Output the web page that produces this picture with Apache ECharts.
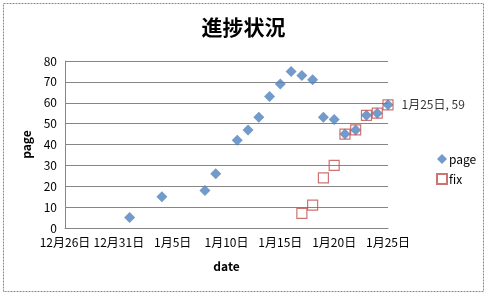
<!DOCTYPE html>
<html><head><meta charset="utf-8">
<script src="https://cdn.jsdelivr.net/npm/echarts@6/dist/echarts.min.js"></script>
<style>html,body{margin:0;padding:0;background:#fff}#c{width:487px;height:300px}</style>
</head><body><div id="c"></div>
<script>
const baseDate = '2010-12-26';
const endDate = '2011-01-25';
const pageDates = ['2011-01-01','2011-01-04','2011-01-08','2011-01-09','2011-01-11','2011-01-12','2011-01-13','2011-01-14','2011-01-15','2011-01-16','2011-01-17','2011-01-18','2011-01-19','2011-01-20','2011-01-21','2011-01-22','2011-01-23','2011-01-24','2011-01-25'];
const pageValues = [5,15,18,26,42,47,53,63,69,75,73,71,53,52,45,47,54,55,59];
const fixDates = ['2011-01-17','2011-01-18','2011-01-19','2011-01-20','2011-01-21','2011-01-22','2011-01-23','2011-01-24','2011-01-25'];
const fixValues = [7,11,24,30,45,47,54,55,59];
const yTicks = [0,10,20,30,40,50,60,70,80];

const DAY = 86400000;
const base = Date.parse(baseDate);
const dayIdx = d => Math.round((Date.parse(d) - base) / DAY);
const fmtDay = v => { const d = new Date(base + v * DAY); return (d.getUTCMonth()+1) + '月' + d.getUTCDate() + '日'; };
const FONT = '"Noto Sans CJK JP", sans-serif';

const chart = echarts.init(document.getElementById('c'), null, {renderer:'canvas'});
chart.setOption({
  backgroundColor: '#fff',
  animation: false,
  textStyle: {fontFamily: FONT},
  title: {text: '進捗状況', left: 'center', top: 12,
    textStyle: {fontSize: 21, fontWeight: 'bold', color: '#000', fontFamily: FONT}},
  graphic: [{type: 'rect', shape: {x: 3.5, y: 3.5, width: 480, height: 288},
    style: {fill: 'none', stroke: '#8a8a8a', lineWidth: 1, lineDash: [2, 1]}}],
  grid: {left: 65, right: 99, top: 61, bottom: 72},
  legend: {orient: 'vertical', left: 431, top: 148, itemGap: 8, itemWidth: 10, itemHeight: 10,
    textStyle: {fontSize: 12, color: '#000', fontFamily: FONT, padding: [0, 0, 0, -3]},
    data: [{name: 'page', icon: 'diamond'}, {name: 'fix', icon: 'rect'}]},
  xAxis: {type: 'value', min: 0, max: dayIdx(endDate), interval: 5,
    name: 'date', nameLocation: 'middle', nameGap: 32,
    nameTextStyle: {fontSize: 12, fontWeight: 'bold', color: '#000'},
    axisLine: {show: true, lineStyle: {color: '#868686'}},
    axisTick: {show: false}, splitLine: {show: false},
    axisLabel: {formatter: v => fmtDay(v), fontSize: 12, color: '#000', margin: 8}},
  yAxis: {type: 'value', min: yTicks[0], max: yTicks[yTicks.length-1], interval: yTicks[1]-yTicks[0],
    name: 'page', nameLocation: 'middle', nameGap: 31, nameRotate: 90,
    nameTextStyle: {fontSize: 12, fontWeight: 'bold', color: '#000'},
    axisLine: {show: true, lineStyle: {color: '#868686'}},
    axisTick: {show: false},
    splitLine: {lineStyle: {color: '#868686'}},
    axisLabel: {fontSize: 12, color: '#000', margin: 8}},
  series: [
    {name: 'page', type: 'scatter', symbol: 'diamond', symbolSize: 11,
     itemStyle: {color: '#4F81BD'},
     data: pageDates.map((d, i) => {
       const o = {value: [dayIdx(d), pageValues[i]]};
       if (i === pageDates.length - 1) {
         o.label = {show: true, position: 'right', distance: 8, fontSize: 12, color: '#000',
           formatter: p => fmtDay(p.value[0]) + ', ' + p.value[1]};
       }
       return o;
     })},
    {name: 'fix', type: 'scatter', symbol: 'rect', symbolSize: 10,
     itemStyle: {color: 'rgba(255,255,255,0)', borderColor: '#C0504D', borderWidth: 1.2},
     data: fixDates.map((d, i) => [dayIdx(d), fixValues[i]])}
  ]
});
</script></body></html>
